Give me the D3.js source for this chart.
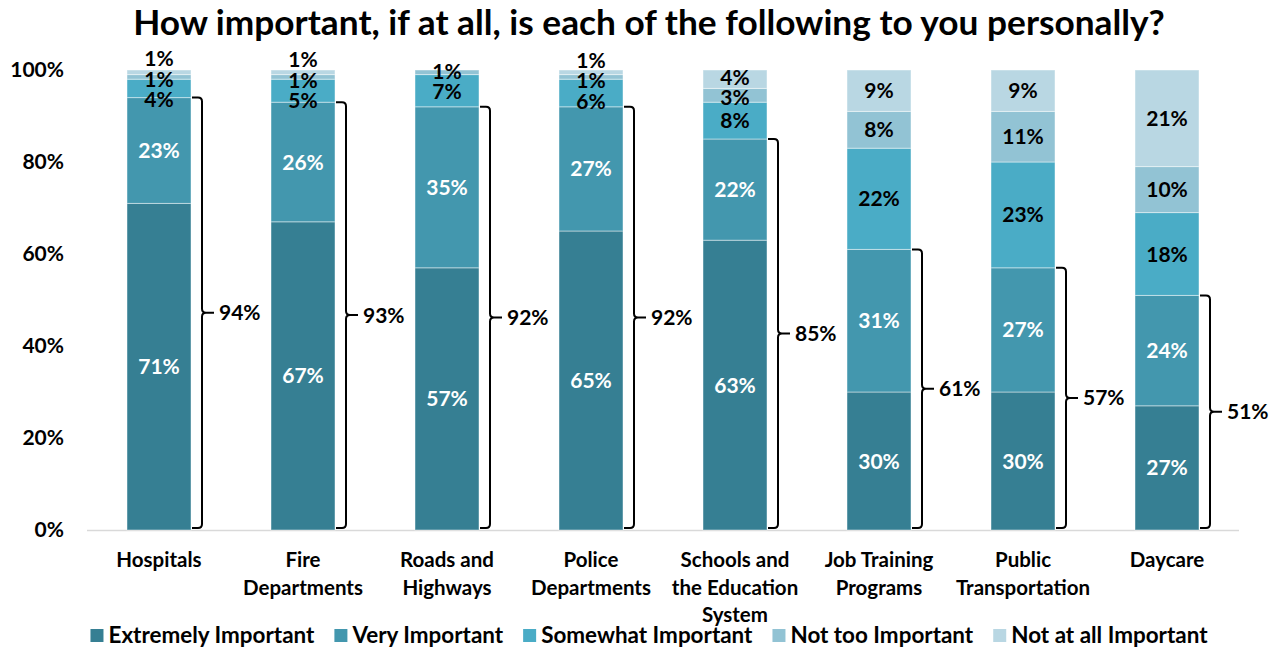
<!DOCTYPE html>
<html>
<head>
<meta charset="utf-8">
<script src="https://cdn.jsdelivr.net/npm/d3@7"></script>
<style>
  html, body { margin: 0; padding: 0; background: #fff; }
  svg { display: block; font-family: Lato, "Open Sans", sans-serif; font-weight: bold; }
</style>
</head>
<body>
<svg id="chart" width="1272" height="647"></svg>
<script>
// ---------- data ----------
const titleText = "How important, if at all, is each of the following to you personally?";
const categories = ["Hospitals", "Fire\nDepartments", "Roads and\nHighways", "Police\nDepartments",
  "Schools and\nthe Education\nSystem", "Job Training\nPrograms", "Public\nTransportation", "Daycare"];
const seriesNames = ["Extremely Important", "Very Important", "Somewhat Important", "Not too Important", "Not at all Important"];
const extremely = [71, 67, 57, 65, 63, 30, 30, 27];
const very      = [23, 26, 35, 27, 22, 31, 27, 24];
const somewhat  = [4, 5, 7, 6, 8, 22, 23, 18];
const notToo    = [1, 1, 1, 1, 3, 8, 11, 10];
const notAtAll  = [1, 1, 0, 1, 4, 9, 9, 21];
const topTwo    = [94, 93, 92, 92, 85, 61, 57, 51];
const yTicks    = [0, 20, 40, 60, 80, 100];
const colors    = ["#367f93", "#4397ae", "#4aacc6", "#92c3d4", "#b9d7e3"];
const labelColors = ["#ffffff", "#ffffff", "#000000", "#000000", "#000000"];

// ---------- build ----------
const svg = d3.select("#chart");
const values = [extremely, very, somewhat, notToo, notAtAll];
const rows = categories.map((c, i) => {
  const r = { cat: c };
  seriesNames.forEach((s, k) => r[s] = values[k][i]);
  return r;
});
const stacked = d3.stack().keys(seriesNames)(rows);

const x = d3.scaleBand().domain(categories).range([87, 1239]).paddingInner(80 / 144).paddingOuter(40 / 144);
const y = d3.scaleLinear().domain([0, 100]).range([530, 70]);
const FS = 21;

// title
const title = svg.append("text").attr("x", 649).attr("y", 35).attr("text-anchor", "middle")
  .attr("font-size", 30).attr("fill", "#000").text(titleText);
const tw = title.node().getComputedTextLength();
title.attr("font-size", 30 * 1032 / tw);

// axis line
svg.append("line").attr("x1", 87).attr("x2", 1239).attr("y1", 530.5).attr("y2", 530.5)
  .attr("stroke", "#d9d9d9").attr("stroke-width", 1.5);

// y axis labels
const yAxis = d3.axisLeft(y).tickValues(yTicks).tickFormat(d => d + "%").tickSize(0).tickPadding(0);
const yg = svg.append("g").attr("transform", "translate(64,0)").call(yAxis);
yg.select(".domain").remove();
yg.selectAll("text").attr("font-size", FS).attr("font-weight", "bold").attr("fill", "#000")
  .attr("font-family", "Lato, sans-serif");

// bars
const layers = svg.append("g").selectAll("g").data(stacked).join("g")
  .attr("fill", (d, k) => colors[k]);
layers.selectAll("rect").data(d => d.map(v => ({ v, cat: v.data.cat })))
  .join("rect")
  .attr("x", d => x(d.cat))
  .attr("width", x.bandwidth())
  .attr("y", d => y(d.v[1]))
  .attr("height", d => Math.max(0, y(d.v[0]) - y(d.v[1])))
  .attr("stroke", "rgba(255,255,255,0.45)")
  .attr("stroke-width", 1);

// data labels, with overlap spreading
const gap = 20.5;
const labelG = svg.append("g");
categories.forEach((c, i) => {
  const items = [];
  stacked.forEach((layer, k) => {
    const seg = layer[i];
    const val = seg[1] - seg[0];
    if (val > 0) items.push({ k, val, c: (y(seg[0]) + y(seg[1])) / 2 });
  });
  items.sort((a, b) => a.c - b.c);
  const clusters = [];
  items.forEach(it => {
    clusters.push({ items: [it], mean: it.c });
    while (clusters.length > 1) {
      const b = clusters[clusters.length - 1], a = clusters[clusters.length - 2];
      const aBottom = a.mean + (a.items.length - 1) * gap / 2;
      const bTop = b.mean - (b.items.length - 1) * gap / 2;
      if (aBottom + gap > bTop) {
        const all = a.items.concat(b.items);
        clusters.splice(clusters.length - 2, 2, { items: all, mean: d3.mean(all, d => d.c) });
      } else break;
    }
  });
  clusters.forEach(cl => {
    const top = cl.mean - (cl.items.length - 1) * gap / 2;
    cl.items.forEach((it, j) => {
      labelG.append("text")
        .attr("x", x(c) + x.bandwidth() / 2)
        .attr("y", top + j * gap)
        .attr("dy", "0.36em")
        .attr("text-anchor", "middle")
        .attr("font-size", FS)
        .attr("fill", labelColors[it.k])
        .text(it.val + "%");
    });
  });
});

// brackets for top-two
const brG = svg.append("g");
categories.forEach((c, i) => {
  const R = x(c) + x.bandwidth();
  const yTop = y(topTwo[i]);
  const yBot = y(0) - 2;
  const yMid = (yTop + yBot) / 2;
  const vx = R + 11;
  const p = d3.path();
  p.moveTo(R + 1, yTop);
  p.lineTo(vx - 4, yTop);
  p.quadraticCurveTo(vx, yTop, vx, yTop + 4);
  p.lineTo(vx, yMid - 4);
  p.quadraticCurveTo(vx, yMid, vx + 4, yMid);
  p.lineTo(vx + 12, yMid);
  p.moveTo(vx + 4, yMid);
  p.quadraticCurveTo(vx, yMid, vx, yMid + 4);
  p.lineTo(vx, yBot - 4);
  p.quadraticCurveTo(vx, yBot, vx - 4, yBot);
  p.lineTo(R + 1, yBot);
  brG.append("path").attr("d", p.toString()).attr("fill", "none")
    .attr("stroke", "#000").attr("stroke-width", 2);
  brG.append("text").attr("x", R + 28).attr("y", yMid).attr("dy", "0.36em")
    .attr("font-size", FS).attr("fill", "#000").text(topTwo[i] + "%");
});

// x labels
const xg = svg.append("g");
categories.forEach(c => {
  const lines = c.split("\n");
  const t = xg.append("text").attr("text-anchor", "middle").attr("font-size", 20.5).attr("fill", "#000");
  lines.forEach((ln, j) => {
    t.append("tspan").attr("x", x(c) + x.bandwidth() / 2).attr("y", 560 + j * 27.5)
      .attr("dy", "0.36em").text(ln);
  });
});

// legend
function drawLegend(fs) {
  const lg = svg.append("g");
  let cx = 0;
  seriesNames.forEach((s, k) => {
    lg.append("rect").attr("x", cx).attr("y", -6).attr("width", 13).attr("height", 13).attr("fill", colors[k]);
    const t = lg.append("text").attr("x", cx + 18).attr("y", 0).attr("dy", "0.36em")
      .attr("font-size", fs).attr("fill", "#000").text(s);
    cx += 18 + t.node().getComputedTextLength() + 20;
  });
  return { lg, w: cx - 20 };
}
let leg = drawLegend(20);
const targetW = 1118;
const fs2 = 20 * (targetW - 5 * 18 - 4 * 20) / (leg.w - 5 * 18 - 4 * 20);
leg.lg.remove();
leg = drawLegend(fs2);
leg.lg.attr("transform", `translate(${649 - leg.w / 2},635)`);
</script>
</body>
</html>
